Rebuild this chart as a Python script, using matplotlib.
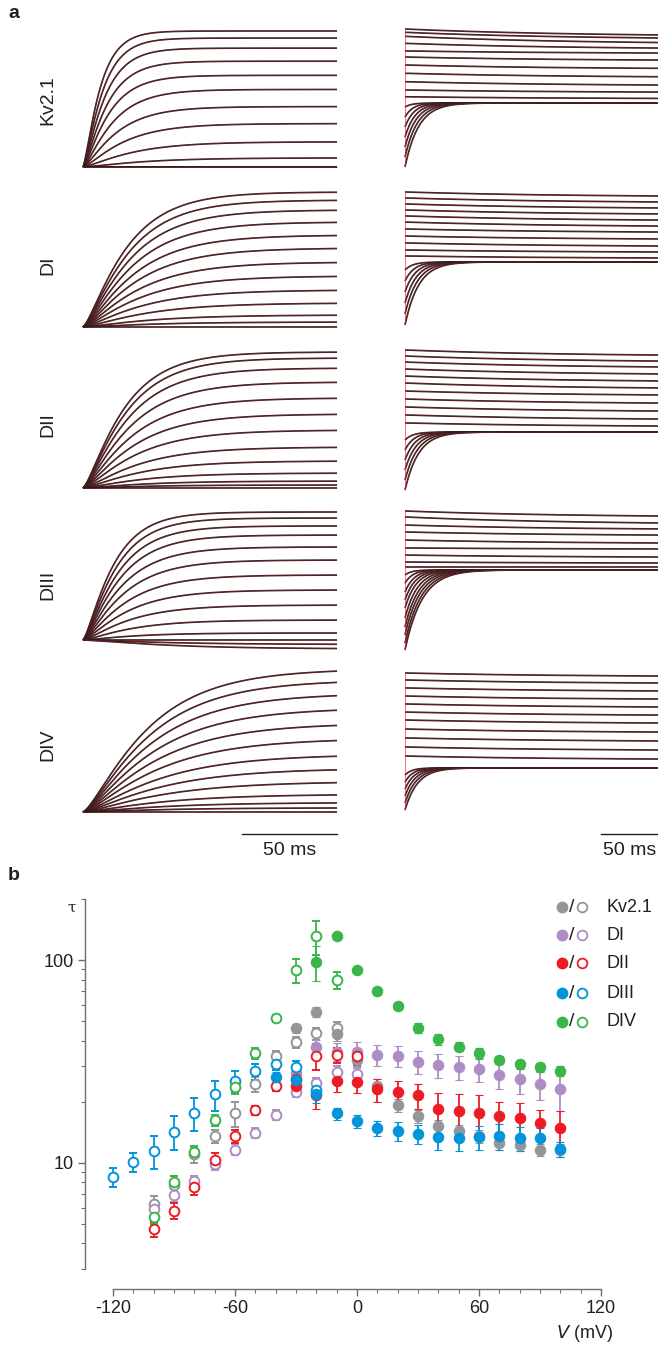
import numpy as np
import matplotlib.pyplot as plt
from matplotlib.ticker import FixedLocator, NullFormatter, FixedFormatter

plt.rcParams['font.family'] = ['Liberation Sans', 'DejaVu Sans']
plt.rcParams['axes.unicode_minus'] = False

W, H = 658, 1345
INK = '#231f20'
FIT = '#ed1c24'

# ---------------- panel a data ----------------
constructs = ['Kv2.1', 'DI', 'DII', 'DIII', 'DIV']

# activation sweeps: steady-state amplitude (normalised) and tau (ms)
kv_act_amp = [1.0, 0.948, 0.874, 0.778, 0.674, 0.570, 0.444, 0.319, 0.185, 0.067, 0.0, 0.0]
kv_act_tau = [8, 9, 10, 11, 12, 14, 16, 19, 23, 28, 30, 30]
di_act_amp = [1.0, 0.94, 0.867, 0.778, 0.681, 0.585, 0.481, 0.378, 0.274, 0.178, 0.089, 0.037, 0.0]
di_act_tau = [20, 21, 22, 23, 24, 25, 26, 27, 28, 30, 32, 33, 33]
dii_act_amp = [1.0, 0.956, 0.882, 0.779, 0.662, 0.544, 0.426, 0.301, 0.199, 0.110, 0.051, 0.022, 0.0]
dii_act_tau = [19, 20, 21, 22, 23, 24, 25, 26, 27, 28, 29, 29, 29]
diii_act_amp = [1.0, 0.953, 0.891, 0.820, 0.727, 0.625, 0.508, 0.391, 0.273, 0.156, 0.055, 0.0, -0.035, -0.07]
diii_act_tau = [14, 15, 16, 17, 18, 19, 20, 21, 22, 23, 24, 24, 40, 40]
div_act_amp = [1.03, 0.95, 0.855, 0.75, 0.64, 0.53, 0.415, 0.315, 0.22, 0.128, 0.068, 0.03, 0.0]
div_act_tau = [30, 31, 32, 33, 34, 35, 36, 37, 38, 38, 38, 38, 38]

# tail sweeps: level at start, level at end of window, tau (ms)
kv_tail_start = [1.0, 0.976, 0.947, 0.896, 0.841, 0.797, 0.739, 0.679, 0.618, 0.558, 0.509,
                 0.435, 0.362, 0.290, 0.217, 0.145, 0.072, 0.0]
kv_tail_end = [0.957, 0.935, 0.902, 0.862, 0.826, 0.775, 0.715, 0.654, 0.594, 0.543, 0.497,
               0.464, 0.464, 0.464, 0.464, 0.464, 0.464, 0.464]
kv_tail_tau = [150, 150, 150, 150, 150, 150, 150, 150, 150, 150, 150, 6, 7, 8, 9, 10, 11, 12]
di_tail_start = [1.0, 0.955, 0.910, 0.865, 0.820, 0.774, 0.722, 0.669, 0.617, 0.564, 0.519,
                 0.414, 0.331, 0.248, 0.165, 0.083, 0.0]
di_tail_end = [0.970, 0.925, 0.880, 0.835, 0.789, 0.744, 0.699, 0.647, 0.594, 0.549, 0.504,
               0.474, 0.474, 0.474, 0.474, 0.474, 0.474]
di_tail_tau = [150, 150, 150, 150, 150, 150, 150, 150, 150, 150, 150, 7, 8, 9, 10, 11, 12]
dii_tail_start = [1.0, 0.957, 0.914, 0.864, 0.814, 0.764, 0.707, 0.650, 0.593, 0.536, 0.479,
                  0.357, 0.286, 0.214, 0.143, 0.071, 0.0]
dii_tail_end = [0.964, 0.921, 0.879, 0.829, 0.779, 0.729, 0.679, 0.621, 0.564, 0.507, 0.457,
                0.414, 0.414, 0.414, 0.414, 0.414, 0.414]
dii_tail_tau = [150, 150, 150, 150, 150, 150, 150, 150, 150, 150, 150, 7, 8, 9, 10, 11, 12]
diii_tail_start = [1.0, 0.957, 0.899, 0.849, 0.791, 0.734, 0.683, 0.633, 0.597,
                   0.540, 0.482, 0.417, 0.360, 0.302, 0.230, 0.165, 0.108, 0.050, 0.0]
diii_tail_end = [0.964, 0.914, 0.871, 0.827, 0.770, 0.727, 0.669, 0.626, 0.597,
                 0.576, 0.576, 0.576, 0.576, 0.576, 0.576, 0.576, 0.576, 0.576, 0.576]
diii_tail_tau = [150, 150, 150, 150, 150, 150, 150, 150, 150, 6, 7, 8, 9, 10, 11, 12, 13, 14, 15]
div_tail_start = [1.0, 0.949, 0.891, 0.832, 0.774, 0.715, 0.657, 0.591, 0.526, 0.460, 0.394,
                  0.255, 0.204, 0.153, 0.102, 0.051, 0.0]
div_tail_end = [0.978, 0.927, 0.869, 0.810, 0.752, 0.693, 0.635, 0.569, 0.504, 0.438, 0.372,
                0.307, 0.307, 0.307, 0.307, 0.307, 0.307]
div_tail_tau = [150, 150, 150, 150, 150, 150, 150, 150, 150, 150, 150, 6, 7, 8, 9, 10, 11]

act_sets = [(kv_act_amp, kv_act_tau), (di_act_amp, di_act_tau), (dii_act_amp, dii_act_tau),
            (diii_act_amp, diii_act_tau), (div_act_amp, div_act_tau)]
tail_sets = [(kv_tail_start, kv_tail_end, kv_tail_tau), (di_tail_start, di_tail_end, di_tail_tau),
             (dii_tail_start, dii_tail_end, dii_tail_tau), (diii_tail_start, diii_tail_end, diii_tail_tau),
             (div_tail_start, div_tail_end, div_tail_tau)]

ACT_WIN = 134.0   # ms shown in left column
TAIL_WIN = 222.0  # ms shown in right column

# ---------------- panel b data ----------------
kv_fill_v = [-30, -20, -10, 0, 10, 20, 30, 40, 50, 60, 70, 80, 90, 100]
kv_fill_tau = [46, 55.6, 43, 32, 24, 19.2, 16.9, 15.1, 14.3, 13.5, 12.5, 12.2, 11.6, 11.5]
kv_fill_err = [2.5, 3, 3, 2, 2, 1.5, 1.2, 1.2, 1, 1, 1, 0.8, 0.8, 0.8]
kv_open_v = [-100, -90, -80, -70, -60, -50, -40, -30, -20, -10]
kv_open_tau = [6.25, 7.8, 11, 13.5, 17.5, 24.4, 33.5, 39.3, 43.4, 46.4]
kv_open_err = [0.6, 0.8, 1, 1, 2.5, 2, 2, 2.5, 3, 3]

di_fill_v = [-30, -20, -10, 0, 10, 20, 30, 40, 50, 60, 70, 80, 90, 100]
di_fill_tau = [27.6, 37.4, 35.3, 35.3, 34, 33.5, 31.4, 30.3, 29.5, 29.0, 27.2, 25.8, 24.4, 23.0]
di_fill_err = [2, 3, 3.5, 4, 4, 4, 4, 4, 4, 4, 4, 4, 4, 5]
di_open_v = [-100, -90, -80, -70, -60, -50, -40, -30, -20, -10, 0]
di_open_tau = [5.9, 6.9, 8.1, 9.85, 11.6, 14.0, 17.2, 22.2, 24.6, 27.9, 27.4]
di_open_err = [0.4, 0.5, 0.5, 0.6, 0.7, 0.8, 1, 1.2, 1.5, 2, 2]

dii_fill_v = [-30, -20, -10, 0, 10, 20, 30, 40, 50, 60, 70, 80, 90, 100]
dii_fill_tau = [24, 21.5, 25.2, 25, 23, 22.2, 21.5, 18.5, 17.9, 17.5, 17, 16.6, 15.7, 14.9]
dii_fill_err = [2, 3, 3, 3, 3, 3, 3, 3.5, 4, 4, 3, 3, 2.5, 3]
dii_open_v = [-100, -90, -80, -70, -60, -50, -40, -30, -20, -10, 0]
dii_open_tau = [4.7, 5.8, 7.55, 10.3, 13.5, 18.1, 24, 26, 33.5, 34, 33.5]
dii_open_err = [0.4, 0.5, 0.6, 0.8, 1, 1, 1.5, 2, 5, 3, 3]

diii_fill_v = [-40, -30, -20, -10, 0, 10, 20, 30, 40, 50, 60, 70, 80, 90, 100]
diii_fill_tau = [26.4, 25.5, 21.8, 17.5, 16, 14.8, 14.3, 13.8, 13.4, 13.2, 13.4, 13.6, 13.2, 13.3, 11.7]
diii_fill_err = [1.5, 2, 2, 1.2, 1.2, 1.2, 1.5, 1.5, 1.8, 1.8, 1.8, 2, 1.8, 1.5, 1]
diii_open_v = [-120, -110, -100, -90, -80, -70, -60, -50, -40, -30, -20]
diii_open_tau = [8.5, 10.1, 11.4, 14.2, 17.6, 21.7, 25.4, 28.2, 30.8, 29.7, 22.8]
diii_open_err = [0.9, 1.1, 2.1, 2.7, 3.2, 3.7, 3, 2.5, 2, 2, 2]

div_fill_v = [-20, -10, 0, 10, 20, 30, 40, 50, 60, 70, 80, 90, 100]
div_fill_tau = [98, 132, 89, 70, 59, 46.3, 40.6, 37.4, 34.6, 32.1, 30.6, 29.5, 28.4]
div_fill_err = [19, 3, 3, 2.5, 2.5, 2.5, 2.5, 2, 2, 1.5, 1.5, 1.5, 1.5]
div_open_v = [-100, -90, -80, -70, -60, -50, -40, -30, -20, -10]
div_open_tau = [5.4, 8.0, 11.3, 16.2, 23.7, 34.6, 51.5, 89, 131, 79.6]
div_open_err = [0.4, 0.6, 0.8, 1, 2, 2, 2, 12, 25, 8]

colors = ['#939598', '#ae8dc4', '#ed1c24', '#0095da', '#39b54a']
series = [
    (kv_fill_v, kv_fill_tau, kv_fill_err, kv_open_v, kv_open_tau, kv_open_err),
    (di_fill_v, di_fill_tau, di_fill_err, di_open_v, di_open_tau, di_open_err),
    (dii_fill_v, dii_fill_tau, dii_fill_err, dii_open_v, dii_open_tau, dii_open_err),
    (diii_fill_v, diii_fill_tau, diii_fill_err, diii_open_v, diii_open_tau, diii_open_err),
    (div_fill_v, div_fill_tau, div_fill_err, div_open_v, div_open_tau, div_open_err),
]


def px_axes(fig, x0, y0, x1, y1):
    # pixel box (top-left origin) -> figure axes
    return fig.add_axes([x0 / W, 1 - y1 / H, (x1 - x0) / W, (y1 - y0) / H])


def draw_trace(ax, t, cur):
    ax.plot(t, cur, color=INK, lw=1.2, clip_on=False, solid_capstyle='butt')
    ax.plot(t, cur, color=FIT, lw=0.4, alpha=0.55, clip_on=False)


fig = plt.figure(figsize=(W / 100, H / 100), dpi=100)

left_rows = [(31, 167), (192, 327), (352, 488), (512, 640), (673, 812)]
right_rows = [(29, 167), (192, 325), (350, 490), (511, 650), (673, 810)]
label_y = [100, 265, 425, 585, 745]

t_act = np.linspace(0, ACT_WIN, 500)
t_tail = np.linspace(0, TAIL_WIN, 600)

for i, name in enumerate(constructs):
    # left column: activation
    y0, y1 = left_rows[i]
    ax = px_axes(fig, 83, y0, 337, y1)
    amps, taus = act_sets[i]
    for a, tau in zip(amps, taus):
        draw_trace(ax, t_act, a * (1 - np.exp(-t_act / tau)) ** 1.4)
    ax.set_xlim(0, ACT_WIN)
    ax.set_ylim(0, 1)
    ax.axis('off')
    fig.text(48 / W, 1 - label_y[i] / H, name, rotation=90, ha='center', va='center',
             fontsize=14, color=INK)
    if i == len(constructs) - 1:
        sb_y = -(834 - y1) / (y1 - y0)
        ax.plot([ACT_WIN - 50, ACT_WIN], [sb_y, sb_y], color=INK, lw=1.0, clip_on=False)
        ax.text(ACT_WIN - 25, sb_y - 0.06, '50 ms', ha='center', va='top', fontsize=14, color=INK)

    # right column: tails
    y0, y1 = right_rows[i]
    ax = px_axes(fig, 405, y0, 658, y1)
    starts, ends, taus = tail_sets[i]
    for s, e, tau in zip(starts, ends, taus):
        k = (np.exp(-t_tail / tau) - np.exp(-TAIL_WIN / tau)) / (1 - np.exp(-TAIL_WIN / tau))
        draw_trace(ax, t_tail, e + (s - e) * k)
    ax.plot([0, 0], [min(starts), max(starts)], color=FIT, lw=0.6, alpha=0.7)
    ax.set_xlim(0, TAIL_WIN)
    ax.set_ylim(0, 1)
    ax.axis('off')
    if i == len(constructs) - 1:
        sb_y = -(834 - y1) / (y1 - y0)
        ax.plot([TAIL_WIN - 50, TAIL_WIN], [sb_y, sb_y], color=INK, lw=1.0, clip_on=False)
        ax.text(TAIL_WIN - 25, sb_y - 0.06, '50 ms', ha='center', va='top', fontsize=14, color=INK)

fig.text(14 / W, 1 - 14 / H, 'a', fontsize=14, fontweight='bold', ha='center', va='center', color=INK)
fig.text(14 / W, 1 - 875 / H, 'b', fontsize=14, fontweight='bold', ha='center', va='center', color=INK)

# ---------------- panel b ----------------
axb = px_axes(fig, 85, 899, 601, 1289)
axb.set_yscale('log')
axb.set_xlim(-133.8, 120)
axb.set_ylim(2.38, 200)

for col, (fv, ft, fe, ov, ot, oe) in zip(colors, series):
    axb.errorbar(ov, ot, yerr=oe, fmt='o', ms=7, mfc='white', mec=col, mew=1.4,
                 ecolor=col, elinewidth=1.3, capsize=3, capthick=1.3, zorder=3)
    axb.errorbar(fv, ft, yerr=fe, fmt='o', ms=7.5, mfc=col, mec=col, mew=0.8,
                 ecolor=col, elinewidth=1.3, capsize=3, capthick=1.3, zorder=3)

spine_col = '#6d6e71'
for side in ['top', 'right']:
    axb.spines[side].set_visible(False)
axb.spines['left'].set_bounds(3, 200)
axb.spines['bottom'].set_bounds(-120, 120)
for side in ['left', 'bottom']:
    axb.spines[side].set_color(spine_col)
    axb.spines[side].set_linewidth(1.0)

axb.xaxis.set_major_locator(FixedLocator([-120, -60, 0, 60, 120]))
axb.xaxis.set_minor_locator(FixedLocator(list(range(-110, 120, 10))))
axb.yaxis.set_major_locator(FixedLocator([10, 100]))
axb.yaxis.set_major_formatter(FixedFormatter(['10', '100']))
axb.yaxis.set_minor_locator(FixedLocator([3, 4, 5, 6, 7, 8, 9, 20, 30, 40, 50, 60, 70, 80, 90, 200]))
axb.yaxis.set_minor_formatter(NullFormatter())
axb.tick_params(which='major', length=5, width=1.0, color=spine_col, labelsize=13, labelcolor=INK, pad=3)
axb.tick_params(which='minor', length=3, width=0.8, color=spine_col)

fig.text(72 / W, 1 - 908 / H, 'τ', fontsize=11, ha='center', va='center', color=INK,
         family=['DejaVu Serif'])
fig.text(613 / W, 1 - 1333 / H, '$\\it{V}$ (mV)', fontsize=13, ha='right', va='center', color=INK)

# legend drawn as marker pairs
leg_y = [907, 935, 963, 993, 1022]
for col, name, ly in zip(colors, constructs, leg_y):
    yy = 1 - ly / H
    fig.lines.append(plt.Line2D([562 / W], [yy], marker='o', ms=7.5, mfc=col, mec=col,
                                transform=fig.transFigure, lw=0))
    fig.text(572 / W, yy, '/', fontsize=14, ha='center', va='center', color=INK)
    fig.lines.append(plt.Line2D([582 / W], [yy], marker='o', ms=7, mfc='white', mec=col, mew=1.3,
                                transform=fig.transFigure, lw=0))
    fig.text(607 / W, yy, name, fontsize=13, ha='left', va='center', color=INK)

fig.savefig('out.png', dpi=100)
